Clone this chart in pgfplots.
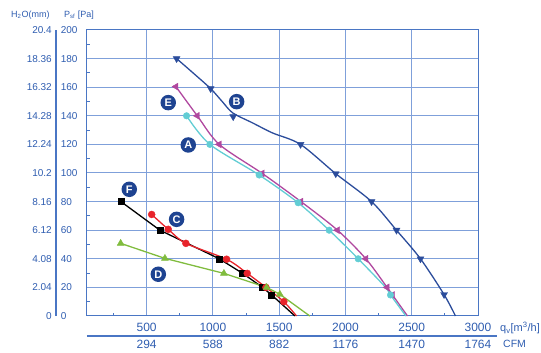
\documentclass[border=0pt]{standalone}
\usepackage{fontspec}
\setmainfont{Liberation Sans}
\usepackage{pgfplots}
\pgfplotsset{compat=1.18}
\definecolor{axblue}{HTML}{4A76C4}
\definecolor{gridblue}{HTML}{7FA0DA}
\definecolor{txtblue}{HTML}{2F5DB0}
\definecolor{cB}{HTML}{2B4C9B}
\definecolor{cE}{HTML}{B0489F}
\definecolor{cA}{HTML}{62CDD4}
\definecolor{cC}{HTML}{E8242B}
\definecolor{cD}{HTML}{80BC3E}
\definecolor{lblbg}{HTML}{1E4391}
\newcommand\ylab[2]{\makebox[30pt][r]{#1}\hspace{9pt}\makebox[26pt][l]{#2}}
\begin{document}
\begin{tikzpicture}[x=1pt,y=1pt]
\useasboundingbox (0,0) rectangle (541,353);
\begin{axis}[
  at={(87pt,37pt)}, anchor=south west, scale only axis,
  width=391pt, height=286pt,
  xmin=50, xmax=3000, ymin=0, ymax=200,
  clip=false,
  xtick={500,1000,1500,2000,2500,3000},
  xticklabels={500\\[4pt]294,1000\\[4pt]588,1500\\[4pt]882,2000\\[4pt]1176,2500\\[4pt]1470,3000\\[4pt]1764},
  minor xtick={250,750,...,2750},
  ytick={0,20,...,200},
  yticklabels={\ylab{0}{0},\ylab{2.04}{20},\ylab{4.08}{40},\ylab{6.12}{60},\ylab{8.16}{80},\ylab{10.2}{100},\ylab{12.24}{120},\ylab{14.28}{140},\ylab{16.32}{160},\ylab{18.36}{180},\ylab{20.4}{200}},
  minor ytick={10,30,...,190},
  grid=major,
  major grid style={gridblue, line width=1pt},
  axis line style={axblue, line width=1pt},
  tick style={axblue, line width=0.8pt},
  major tick length=0pt, minor tick length=3pt,
  tick align=inside,
  xtick pos=bottom, ytick pos=left,
  xticklabel style={align=center, font=\fontsize{12}{13}\selectfont, text=txtblue, inner sep=0pt, yshift=-7pt},
  yticklabel style={anchor=east, inner sep=0pt, font=\fontsize{10}{12}\selectfont, text=txtblue},
]
% curves
\addplot[cB, line width=1.3pt, smooth] coordinates {(726,180) (850,170) (983,159) (1070,150) (1150,142) (1300,135) (1450,128) (1661,120) (1927,99.5) (2197,80) (2385,60) (2566,40) (2744,15) (2830,0)};
\addplot[cB, only marks, mark=triangle*, mark size=4pt, mark options={rotate=180}] coordinates {(726,180) (983,159) (1153,139.4) (1661,120) (1927,99.5) (2197,80) (2385,60) (2566,40) (2744,15)};

\addplot[cE, line width=1.3pt, smooth] coordinates {(721,160.4) (882,140) (1048,120) (1372,99.7) (1664,80) (1940,60) (2154,40) (2314,20) (2355,14.7) (2468,0)};
\addplot[cE, only marks, mark=triangle*, mark size=4pt, mark options={rotate=90}] coordinates {(721,160.4) (882,140) (1048,120) (1372,99.7) (1664,80) (1940,60) (2154,40) (2314,20) (2355,14.7)};

\addplot[cA, line width=1.3pt, smooth] coordinates {(801,140) (977,120) (1349,98.6) (1643,79.2) (1877,60) (2096,40) (2298,20.5) (2340,14.7) (2456,0)};
\addplot[cA, only marks, mark=*, mark size=3.3pt] coordinates {(801,140) (977,120) (1349,98.6) (1643,79.2) (1877,60) (2096,40) (2340,14.7)};

\addplot[black, line width=1.3pt] coordinates {(306,80) (600,60) (1048,40) (1221,30) (1375,20) (1443,14.7) (1619,0)};
\addplot[black, only marks, mark=square*, mark size=3pt] coordinates {(306,80) (600,60) (1048,40) (1221,30) (1375,20) (1443,14.7)};

\addplot[cC, line width=1.3pt, smooth] coordinates {(538,71) (663,60.6) (796,50.8) (1103,39.7) (1259,29.8) (1400,20) (1535,10) (1631,0)};
\addplot[cC, only marks, mark=*, mark size=3.5pt] coordinates {(538,71) (663,60.6) (796,50.8) (1103,39.7) (1259,29.8) (1400,20) (1535,10)};

\addplot[cD, line width=1.3pt] coordinates {(304,50.8) (638,40.3) (1083,29.8) (1405,20) (1505,15.2) (1731,0)};
\addplot[cD, only marks, mark=triangle*, mark size=4pt] coordinates {(304,50.8) (638,40.3) (1083,29.8) (1405,20) (1505,15.2)};

% letter labels
\tikzset{lbl/.style={circle, fill=lblbg, text=white, font=\bfseries\fontsize{11}{12}\selectfont, minimum size=15.5pt, inner sep=0pt}}
\node[lbl] at (axis cs:1179,149.9) {B};
\node[lbl] at (axis cs:663,149.2) {E};
\node[lbl] at (axis cs:814,119.6) {A};
\node[lbl] at (axis cs:369,88.6) {F};
\node[lbl] at (axis cs:726,67.6) {C};
\node[lbl] at (axis cs:588,29.2) {D};

% decorations
\draw[axblue, line width=1.2pt] ([xshift=-31pt]rel axis cs:0,0) -- ([xshift=-31pt]rel axis cs:0,1);
\draw[axblue, line width=1.3pt] ([yshift=-20pt]rel axis cs:0,0) -- ([yshift=-20pt,xshift=19pt]rel axis cs:1,0);
\node[anchor=west, inner sep=0pt, text=txtblue, font=\fontsize{11}{12}\selectfont] at ([xshift=22pt,yshift=-12pt]rel axis cs:1,0) {q\textsubscript{v}[m\textsuperscript{3}/h]};
\node[anchor=west, inner sep=0pt, text=txtblue, font=\fontsize{10.5}{12}\selectfont] at ([xshift=25pt,yshift=-28pt]rel axis cs:1,0) {CFM};
\node[anchor=west, inner sep=0pt, text=txtblue, font=\fontsize{9}{10}\selectfont] at ([xshift=-76pt,yshift=15pt]rel axis cs:0,1) {H\textsubscript{2}O(mm)};
\node[anchor=west, inner sep=0pt, text=txtblue, font=\fontsize{9}{10}\selectfont] at ([xshift=-23pt,yshift=15pt]rel axis cs:0,1) {P\textsubscript{sf} [Pa]};
\end{axis}
\end{tikzpicture}
\end{document}
